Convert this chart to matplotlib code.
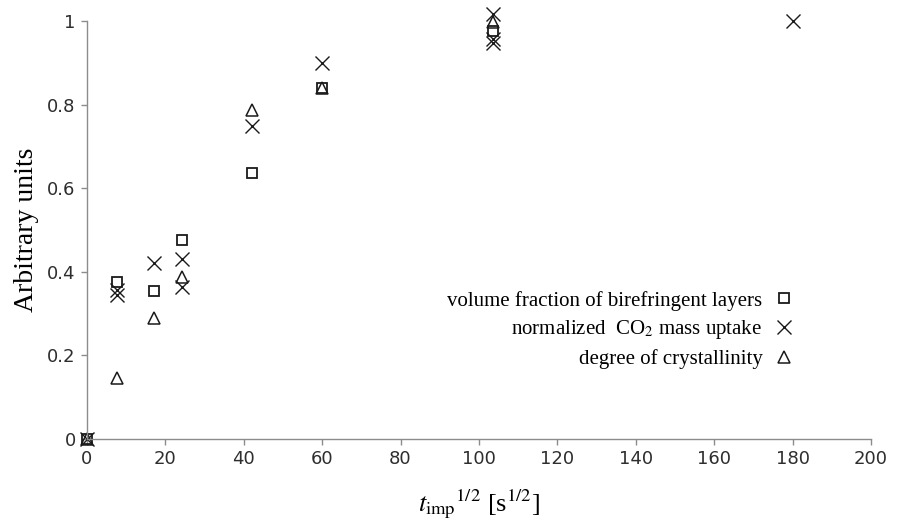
import matplotlib
matplotlib.use("Agg")
import matplotlib.pyplot as plt
from matplotlib.ticker import FuncFormatter

# values
t_birefringent = [0, 7.7, 17.2, 24.3, 42.2, 60, 103.7]
v_birefringent = [0, 0.377, 0.354, 0.476, 0.636, 0.840, 0.977]

t_co2 = [0, 7.7, 7.7, 17.2, 24.3, 24.3, 42.2, 60, 103.7, 103.7, 103.7, 180]
v_co2 = [0, 0.357, 0.345, 0.421, 0.430, 0.365, 0.749, 0.899, 1.018, 0.957, 0.949, 1.0]

t_cryst = [0, 7.7, 17.2, 24.3, 42.2, 60, 103.7]
v_cryst = [0, 0.147, 0.289, 0.387, 0.788, 0.840, 0.998]

x_ticks = [0, 20, 40, 60, 80, 100, 120, 140, 160, 180, 200]
y_ticks = [0, 0.2, 0.4, 0.6, 0.8, 1.0]

labels = ["volume fraction of birefringent layers",
          r"normalized  CO$_{2}$ mass uptake",
          "degree of crystallinity"]

plt.rcParams["mathtext.fontset"] = "stix"
serif = "Liberation Serif"
mark = "#1a1a1a"
axis_col = "#8c8c8c"

fig = plt.figure(figsize=(8.98, 5.21), dpi=100)
ax = fig.add_axes([0.0967, 0.1574, 0.8733, 0.8017])

ax.plot(t_birefringent, v_birefringent, ls="none", marker="s", ms=7.5,
        mfc="none", mec=mark, mew=1.3, clip_on=False, label=labels[0])
ax.plot(t_co2, v_co2, ls="none", marker="x", ms=10.5,
        mec=mark, mew=1.0, clip_on=False, label=labels[1])
ax.plot(t_cryst, v_cryst, ls="none", marker="^", ms=8.5,
        mfc="none", mec=mark, mew=1.1, clip_on=False, label=labels[2])

ax.set_xlim(0, 200)
ax.set_ylim(0, 1)
ax.set_xticks(x_ticks)
ax.set_yticks(y_ticks)
ax.yaxis.set_major_formatter(FuncFormatter(lambda v, p: "%g" % v))

for side in ["top", "right"]:
    ax.spines[side].set_visible(False)
for side in ["left", "bottom"]:
    ax.spines[side].set_color(axis_col)
    ax.spines[side].set_linewidth(1.0)
ax.tick_params(axis="both", direction="out", length=4, width=1.0,
               color=axis_col, labelsize=13, labelcolor="#2e2e2e", pad=4)

ax.set_xlabel(r"$\mathit{t}_{\mathrm{imp}}{}^{1/2}$ [s$^{1/2}$]",
              family=serif, fontsize=19, labelpad=14)
ax.set_ylabel("Arbitrary units", family=serif, fontsize=20, labelpad=6)

leg = ax.legend(loc="center right", bbox_to_anchor=(0.900, 0.261),
                markerfirst=False, frameon=False, borderpad=0, borderaxespad=0,
                handlelength=0.8, handletextpad=0.65, labelspacing=0.38,
                prop={"family": serif, "size": 15})

fig.savefig("out.png", dpi=100)
